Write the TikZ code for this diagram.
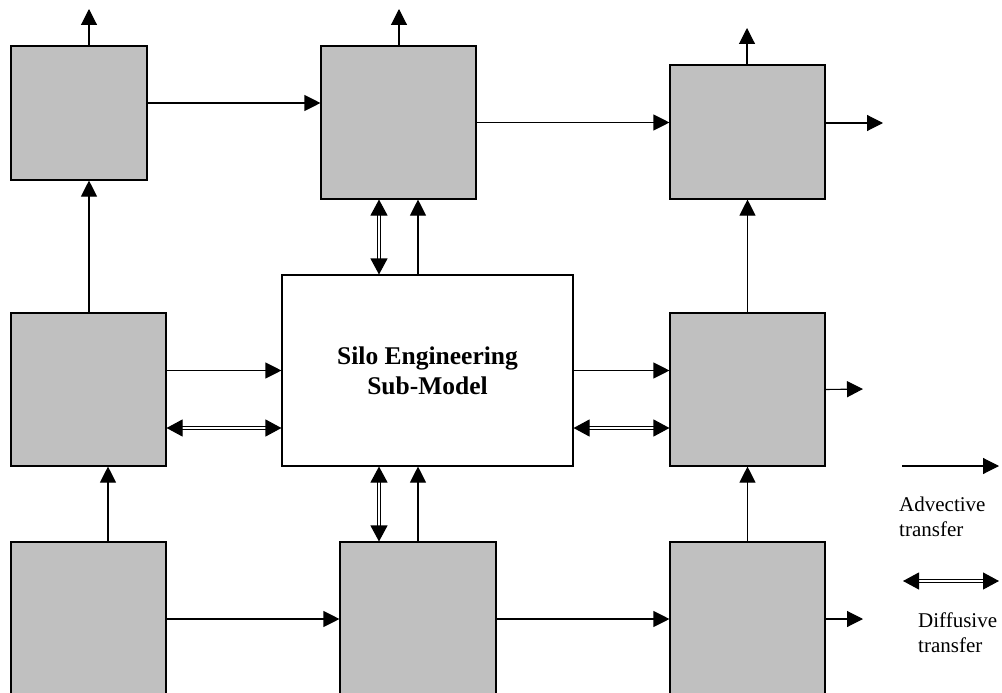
\documentclass[tikz,border=0pt]{standalone}
\usepackage{fontspec}
\setmainfont{Liberation Serif}
\usetikzlibrary{arrows.meta, positioning, calc}
\definecolor{cellgray}{RGB}{192,192,192}
\tikzset{
  cell/.style={draw, line width=1.1pt, fill=cellgray, minimum width=155pt, minimum height=153pt, inner sep=0pt},
  adv/.style={line width=1.1pt, -{Triangle[length=16pt,width=16pt]}},
  dif/.style={line width=1.1pt, double, double distance=1.8pt, {Triangle[length=16pt,width=17pt]}-{Triangle[length=16pt,width=17pt]}},
  legend/.style={anchor=north west, inner sep=0pt, align=left, font=\fontsize{21}{25}\selectfont},
}

\begin{document}
\begin{tikzpicture}[x=1pt, y=-1pt]
	\useasboundingbox (0,0) rectangle (1002,693);
	\clip (0,0) rectangle (1002,693);
	
	% compartments
	\node[cell, minimum width=136pt, minimum height=134pt] (tl) at (79,113) {};
	\node[cell] (tm) at (398.5,122.5) {};
	\node[cell, minimum height=134pt] (tr) at (747.5,132) {};
	
	\node[cell] (ml) at (88.5,389.5) {};
	\node[draw, line width=1.1pt, fill=white, minimum width=291pt, minimum height=191pt,
		font=\bfseries\fontsize{25.5}{30}\selectfont, align=center] (silo) at (427.5,370.5) {Silo Engineering\\Sub-Model};
	\node[cell] (mr) at (747.5,389.5) {};
	
	\node[cell, minimum height=154pt] (bl) at (88.5,619) {};
	\node[cell, minimum width=156pt, minimum height=154pt] (bm) at (418,619) {};
	\node[cell, minimum height=154pt] (br) at (747.5,619) {};
	
	% free ends
	\coordinate (otl) at (89,9);
	\coordinate (otm) at (399,9);
	\coordinate (otr) at (747,28);
	\coordinate (oet) at (883,123);
	\coordinate (oem) at (863,389);
	\coordinate (oeb) at (863,619);
	
	% top row
	\draw[adv] (otl |- tl.north) -- (otl);
	\draw[adv] (otm |- tm.north) -- (otm);
	\draw[adv] (otr |- tr.north) -- (otr);
	\draw[adv] ([yshift=10pt]tl.east) -- ([yshift=10pt]tl.east -| tm.west);
	\draw[adv] (tm.east) -- (tm.east -| tr.west);
	\draw[adv] (oet -| tr.east) -- (oet);
	
	% middle row
	\draw[adv] (otl |- ml.north) -- (otl |- tl.south);
	\draw[dif] ([xshift=-39pt]bm.north |- silo.north) -- ([xshift=-39pt]bm.north |- tm.south);
	\draw[adv] (bm.north |- silo.north) -- (bm.north |- tm.south);
	\draw[adv] (mr.north) -- (tr.south);
	\draw[adv] (silo.west -| ml.east) -- (silo.west);
	\draw[dif] ([yshift=-57.5pt]silo.west -| ml.east) -- ([yshift=-57.5pt]silo.west);
	\draw[adv] (silo.east) -- (silo.east -| mr.west);
	\draw[dif] ([yshift=-57.5pt]silo.east) -- ([yshift=-57.5pt]silo.east -| mr.west);
	\draw[adv] (mr.east) -- (oem);
	
	% bottom row
	\draw[adv] ([xshift=19.5pt]bl.north) -- ([xshift=19.5pt]bl.north |- ml.south);
	\draw[dif] ([xshift=-39pt]bm.north) -- ([xshift=-39pt]bm.north |- silo.south);
	\draw[adv] (bm.north) -- (bm.north |- silo.south);
	\draw[adv] (br.north) -- (mr.south);
	\draw[adv] (bl.east) -- (bm.west);
	\draw[adv] (bm.east) -- (br.west);
	\draw[adv] (br.east) -- (oeb);
	
	% key
	\coordinate (la1) at (902,466);
	\coordinate (la2) at (999,466);
	\coordinate (ld1) at (903,581);
	\coordinate (ld2) at (999,581);
	\draw[adv] (la1) -- (la2);
	\draw[dif] (ld1) -- (ld2);
	\node[legend] (ladv) at (899,497) {Advective\\transfer};
	\node[legend] (ldif) at (918,613) {Diffusive\\transfer};
\end{tikzpicture}
\end{document}
